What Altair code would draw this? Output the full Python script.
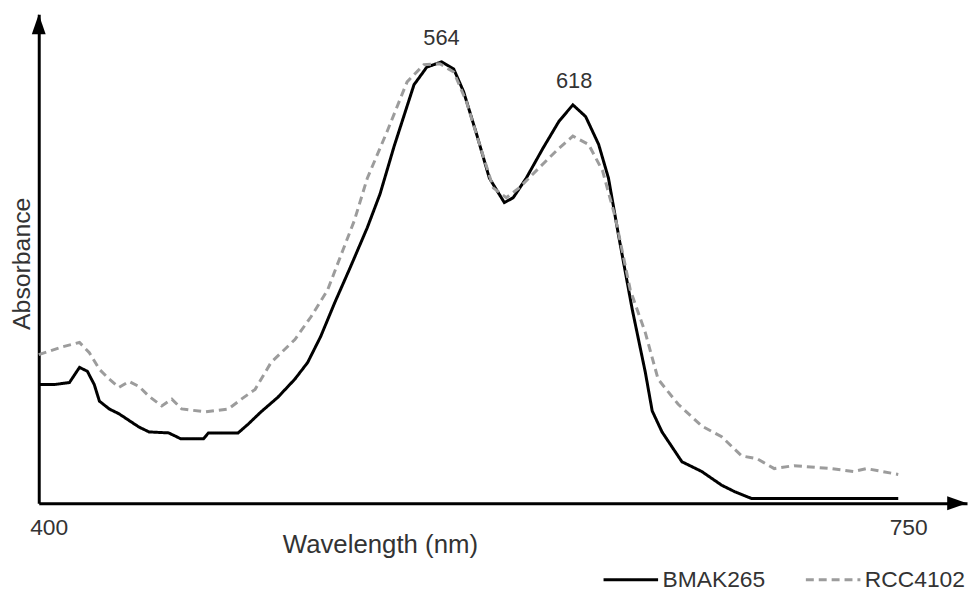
import altair as alt
import pandas as pd

# ---- data ----
wl_bmak = [400.0, 406.5, 412.5, 416.6, 419.8, 422.6, 424.7, 428.7, 432.7, 440.8, 444.9, 452.9, 456.2,
           457.8, 467.1, 469.1, 481.2, 485.3, 490.5, 497.4, 504.3, 509.5, 514.8, 520.5, 526.9, 533.8,
           539.0, 544.7, 552.8, 558.0, 564.1, 569.0, 573.0, 578.3, 583.5, 589.6, 593.2, 598.5, 605.3,
           611.8, 617.5, 622.7, 628.0, 632.0, 636.1, 641.7, 647.0, 649.8, 653.8, 661.9, 670.0, 678.1,
           683.3, 690.2, 750.0]
abs_bmak = [0.243, 0.243, 0.247, 0.278, 0.270, 0.243, 0.209, 0.193, 0.183, 0.156, 0.146, 0.144, 0.136,
            0.132, 0.132, 0.144, 0.144, 0.162, 0.187, 0.217, 0.254, 0.288, 0.341, 0.410, 0.483, 0.564,
            0.633, 0.730, 0.856, 0.892, 0.903, 0.888, 0.842, 0.755, 0.665, 0.615, 0.625, 0.665, 0.726,
            0.781, 0.815, 0.791, 0.734, 0.665, 0.548, 0.396, 0.268, 0.189, 0.146, 0.085, 0.065, 0.037,
            0.024, 0.010, 0.010]

wl_rcc = [400.0, 409.7, 416.6, 420.6, 424.7, 428.7, 432.7, 436.8, 440.8, 444.9, 450.1, 454.2, 458.2,
          467.9, 477.2, 482.5, 488.1, 494.6, 504.3, 510.8, 517.6, 523.8, 528.5, 533.8, 541.9, 550.0,
          556.8, 563.3, 569.0, 574.2, 579.5, 585.1, 590.4, 595.6, 603.7, 611.8, 617.5, 623.9, 629.6,
          634.8, 640.9, 647.0, 652.2, 660.3, 670.0, 678.1, 686.2, 692.6, 699.5, 707.6, 722.6, 731.9,
          737.1, 750.0]
abs_rcc = [0.304, 0.320, 0.329, 0.308, 0.274, 0.254, 0.237, 0.249, 0.239, 0.219, 0.199, 0.213, 0.193,
           0.187, 0.193, 0.213, 0.233, 0.288, 0.335, 0.381, 0.436, 0.517, 0.578, 0.665, 0.761, 0.862,
           0.897, 0.899, 0.882, 0.821, 0.734, 0.645, 0.625, 0.645, 0.686, 0.726, 0.751, 0.734, 0.680,
           0.584, 0.436, 0.349, 0.254, 0.203, 0.158, 0.136, 0.097, 0.091, 0.071, 0.077, 0.071, 0.065,
           0.071, 0.059]

series_names = ["BMAK265", "RCC4102"]
series_colors = ["#000000", "#9c9c9c"]

peak_labels = ["564", "618"]
peak_wl = [564, 618]
peak_abs = [0.903, 0.815]

x_ticks = [400, 750]
x_domain = [400, 778]
y_domain = [0, 1]

FONT = "Liberation Sans"
TXT = "#333333"

df = pd.concat([
    pd.DataFrame({"wavelength": wl_bmak, "absorbance": abs_bmak, "sample": series_names[0]}),
    pd.DataFrame({"wavelength": wl_rcc, "absorbance": abs_rcc, "sample": series_names[1]}),
], ignore_index=True)

peaks = pd.DataFrame({"wavelength": peak_wl, "absorbance": peak_abs, "label": peak_labels})
y_arrow = pd.DataFrame({"wavelength": [x_domain[0]], "absorbance": [y_domain[1]]})
x_arrow = pd.DataFrame({"wavelength": [x_domain[1]], "absorbance": [y_domain[0]]})

x_scale = alt.Scale(domain=x_domain, nice=False, zero=False)
y_scale = alt.Scale(domain=y_domain, nice=False, zero=False)

legend = alt.Legend(
    title=None, orient="none", legendX=568, legendY=541, direction="horizontal",
    symbolType="stroke", symbolSize=3025, symbolStrokeWidth=3,
    labelFontSize=23, labelFont=FONT, labelColor=TXT, labelOffset=3,
    columnPadding=34, padding=0, labelLimit=300,
)

lines = alt.Chart(df).mark_line(strokeWidth=3, clip=False).encode(
    x=alt.X("wavelength:Q", scale=x_scale, axis=alt.Axis(
        values=x_ticks, ticks=False, tickSize=0, grid=False,
        domainColor="black", domainWidth=3,
        labelFontSize=23, labelFont=FONT, labelColor=TXT, labelPadding=13,
        labelOffset=10, labelFlush=False,
        title="Wavelength (nm)", titleFontSize=26, titleFont=FONT, titleColor=TXT,
        titleFontWeight="normal", titleX=344, titleY=42, titleBaseline="middle", titleAlign="center",
    )),
    y=alt.Y("absorbance:Q", scale=y_scale, axis=alt.Axis(
        labels=False, ticks=False, tickSize=0, grid=False,
        domainColor="black", domainWidth=3,
        title="Absorbance", titleFontSize=25, titleFont=FONT, titleColor=TXT,
        titleFontWeight="normal", titleAngle=270, titleX=-17, titleY=251,
        titleBaseline="middle", titleAlign="center",
    )),
    color=alt.Color("sample:N", scale=alt.Scale(domain=series_names, range=series_colors), legend=legend),
    strokeDash=alt.StrokeDash("sample:N", scale=alt.Scale(domain=series_names, range=[[1, 0], [8, 5]]),
                              legend=legend),
)

labels = alt.Chart(peaks).mark_text(
    fontSize=22, font=FONT, color=TXT, dy=-24, baseline="middle", align="center"
).encode(
    x=alt.X("wavelength:Q", scale=x_scale),
    y=alt.Y("absorbance:Q", scale=y_scale),
    text="label:N",
)

arrow_up = alt.Chart(y_arrow).mark_point(
    shape="M0,0L-0.7,2L0.7,2Z", size=400, filled=True, color="black", opacity=1, clip=False
).encode(
    x=alt.X("wavelength:Q", scale=x_scale),
    y=alt.Y("absorbance:Q", scale=y_scale),
)

arrow_right = alt.Chart(x_arrow).mark_point(
    shape="M0,0L-2,-0.7L-2,0.7Z", size=400, filled=True, color="black", opacity=1, clip=False
).encode(
    x=alt.X("wavelength:Q", scale=x_scale),
    y=alt.Y("absorbance:Q", scale=y_scale),
)

chart = alt.layer(lines, labels, arrow_up, arrow_right).properties(
    width=936, height=493,
    autosize=alt.AutoSizeParams(type="none"),
    padding={"left": 31, "top": 4, "right": 2, "bottom": 86},
).configure_view(stroke=None)

chart.save("out.html", embed_options={"renderer": "svg", "actions": False})
